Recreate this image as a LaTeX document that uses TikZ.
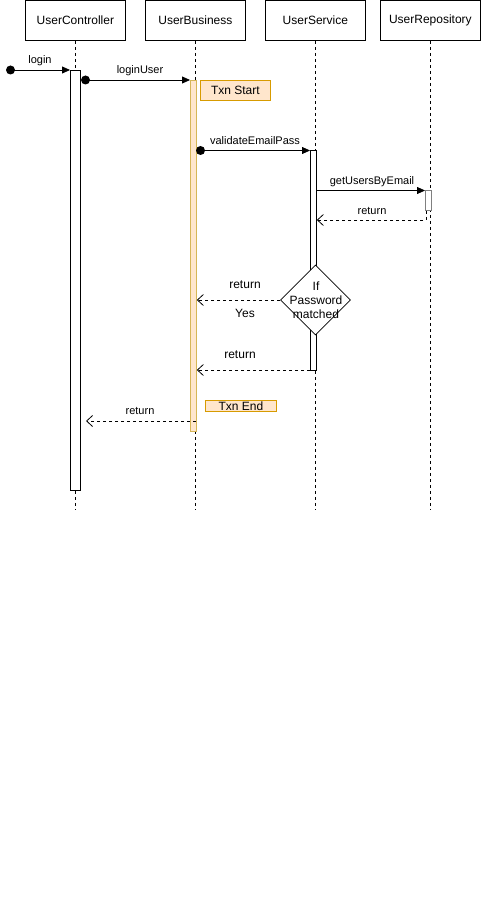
\documentclass[tikz,border=0pt]{standalone}
\usepackage{fontspec}
\setmainfont{Liberation Sans}
\usetikzlibrary{arrows.meta,shapes.geometric}
\definecolor{txnfill}{HTML}{FFE6CC}
\definecolor{txndraw}{HTML}{D79B00}
\definecolor{bardraw}{HTML}{D6B656}
\definecolor{repdraw}{HTML}{808080}
\begin{document}
\begin{tikzpicture}[x=1pt,y=-1pt,
  hdr/.style={draw, fill=white, minimum width=100pt, minimum height=40pt, inner sep=0pt, font=\fontsize{12}{14}\selectfont, anchor=north west, line width=0.8pt},
  life/.style={dash pattern=on 3pt off 3pt, line width=0.8pt},
  actbox/.style={draw, fill=white, inner sep=0pt, anchor=north west, line width=0.8pt},
  msg/.style={-{Triangle[length=8pt,width=7pt]}, line width=0.8pt},
  ret/.style={dash pattern=on 3pt off 3pt, -{Straight Barb[length=6pt,width=11pt]}, line width=0.8pt},
  lbl/.style={font=\fontsize{11}{13}\selectfont, inner sep=0pt},
  dotn/.style={circle, fill=black, minimum size=9pt, inner sep=0pt},
  txn/.style={draw=txndraw, fill=txnfill, inner sep=0pt, anchor=north west, line width=0.8pt},
]
\useasboundingbox (0,0) rectangle (481,912);

% headers
\node[hdr] (hC) at (25,0) {UserController};
\node[hdr] (hB) at (145,0) {UserBusiness};
\node[hdr] (hS) at (265,0) {UserService};
\node[hdr] (hR) at (380,0) {UserRepository};

% lifeline ends
\coordinate (eC) at (75.5,510);
\coordinate (eB) at (195.5,510);
\coordinate (eS) at (315.5,510);
\coordinate (eR) at (430,510);
\draw[life] (hC.south -| eC) -- (eC);
\draw[life] (hB.south -| eB) -- (eB);
\draw[life] (hS.south -| eS) -- (eS);
\draw[life] (hR.south -| eR) -- (eR);

% activations
\node[actbox, minimum width=10pt, minimum height=420pt] (aC) at (70,70) {};
\node[actbox, draw=bardraw, fill=txnfill, minimum width=6pt, minimum height=351pt] (aB) at (190,80) {};
\node[actbox, minimum width=6pt, minimum height=220pt] (aS) at (310,150) {};
\node[actbox, draw=repdraw, minimum width=6pt, minimum height=20pt] (aR) at (425,190) {};

% txn boxes
\node[txn, minimum width=70pt, minimum height=20pt] (ts) at (200,80) {};
\node[font=\fontsize{12}{14}\selectfont, inner sep=0pt] (tsl) at (ts.center) {Txn Start};
\node[txn, minimum width=71pt, minimum height=11pt] (te) at (205,400) {};
\node[font=\fontsize{12}{14}\selectfont, inner sep=0pt] (tel) at ([yshift=-0.5pt]te.center) {Txn End};

% messages
\coordinate (d1) at (10.5,70);
\draw[msg] (d1) -- (d1 -| aC.west);
\node[dotn] (n1) at (d1) {};
\node[lbl] (l1) at (40,61) {login};

\coordinate (d2) at (85.5,80);
\draw[msg] (d2) -- (d2 -| aB.west);
\node[dotn] (n2) at (d2) {};
\node[lbl] (l2) at (140,71) {loginUser};

\coordinate (d3) at (200.5,150.5);
\draw[msg] (d3) -- (d3 -| aS.west);
\node[dotn] (n3) at (d3) {};
\node[lbl] (l3) at (255,141) {validateEmailPass};

\coordinate (d4) at (316,190.5);
\draw[msg] (d4) -- (d4 -| aR.west);
\node[lbl] (l4) at (372,181.5) {getUsersByEmail};

\coordinate (d5) at (426,220);
\draw[ret] (aR.south -| d5) -- (d5) -- (d5 -| aS.east);
\node[lbl] (l5) at (372,211) {return};

% decision
\node[diamond, draw, fill=white, shape aspect=1, minimum width=70pt, minimum height=70pt, inner sep=0pt, line width=0.8pt] (dia) at (315.5,300) {};
\node[font=\fontsize{12}{14}\selectfont, align=center, inner sep=0pt] (dial) at (316,300) {If\\Password\\matched};
\draw[ret] (dia.west) -- (dia.west -| aB.east);
\node[lbl, font=\fontsize{12}{14}\selectfont] (l6) at (245,285) {return};
\node[lbl, font=\fontsize{12}{14}\selectfont] (l7) at (245,313) {Yes};

\coordinate (d8) at (316,370);
\draw[ret] (d8) -- (d8 -| aB.east);
\node[lbl, font=\fontsize{12}{14}\selectfont] (l8) at (240,355) {return};

\coordinate (d9) at (196,421);
\coordinate (t9) at (86,421);
\draw[ret] (d9) -- (t9);
\node[lbl] (l9) at (140,411) {return};
\end{tikzpicture}
\end{document}
